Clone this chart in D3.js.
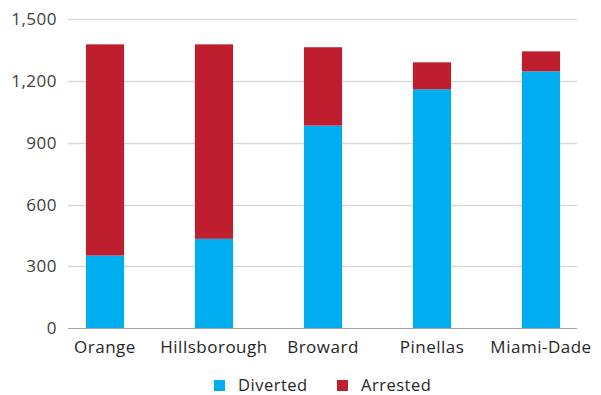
<!DOCTYPE html>
<html>
<head>
<meta charset="utf-8">
<script src="https://cdn.jsdelivr.net/npm/d3@7"></script>
<style>
  body { margin: 0; background: #fff; }
  svg { display: block; font-family: "Open Sans", "Noto Sans", sans-serif; }
  text { letter-spacing: 0.5px; }
</style>
</head>
<body>
<svg id="chart" width="601" height="395"></svg>
<script>
const counties = ['Orange', 'Hillsborough', 'Broward', 'Pinellas', 'Miami-Dade'];
const diverted = [353, 434, 983, 1159, 1246];
const arrested = [1024, 943, 380, 131, 97];
const yTicks = [0, 300, 600, 900, 1200, 1500];

const seriesNames = ['Diverted', 'Arrested'];
const colors = { Diverted: '#00aeef', Arrested: '#be1e2d' };

const rows = counties.map((c, i) => ({ county: c, Diverted: diverted[i], Arrested: arrested[i] }));
const stacked = d3.stack().keys(seriesNames)(rows);

const svg = d3.select('#chart');
const plotLeft = 68, plotRight = 577;

const y = d3.scaleLinear().domain([0, 1500]).range([328.3, 19]);
const x = d3.scaleBand().domain(counties).range([50.5, 595.5]).paddingInner(0.65).paddingOuter(0.325);

// gridlines
svg.append('g')
  .selectAll('line')
  .data(yTicks.filter(t => t > 0))
  .join('line')
  .attr('x1', plotLeft).attr('x2', plotRight)
  .attr('y1', d => Math.round(y(d)) + 0.5).attr('y2', d => Math.round(y(d)) + 0.5)
  .attr('stroke', '#d9d9d9').attr('stroke-width', 1.3);

// bars
svg.append('g')
  .selectAll('g')
  .data(stacked)
  .join('g')
  .attr('fill', d => colors[d.key])
  .selectAll('rect')
  .data(d => d)
  .join('rect')
  .attr('x', d => x(d.data.county))
  .attr('width', x.bandwidth())
  .attr('y', d => y(d[1]))
  .attr('height', d => y(d[0]) - y(d[1]));

// x axis line
svg.append('line')
  .attr('x1', plotLeft).attr('x2', plotRight)
  .attr('y1', 328.5).attr('y2', 328.5)
  .attr('stroke', '#a6a6a6').attr('stroke-width', 1);

// y tick labels
svg.append('g')
  .selectAll('text')
  .data(yTicks)
  .join('text')
  .attr('x', 57)
  .attr('y', d => y(d))
  .attr('dy', '0.35em')
  .attr('text-anchor', 'end')
  .attr('font-size', 17)
  .attr('fill', '#404040')
  .text(d3.format(','));

// category labels
svg.append('g')
  .selectAll('text')
  .data(counties)
  .join('text')
  .attr('x', d => x(d) + x.bandwidth() / 2)
  .attr('y', 353)
  .attr('text-anchor', 'middle')
  .attr('font-size', 17)
  .attr('fill', '#262626')
  .text(d => d);

// legend
const legend = svg.append('g')
  .selectAll('g')
  .data(seriesNames)
  .join('g')
  .attr('transform', (d, i) => `translate(${214 + i * 123},380)`);
legend.append('rect')
  .attr('width', 11).attr('height', 11)
  .attr('fill', d => colors[d]);
legend.append('text')
  .attr('x', 24).attr('y', 10.5)
  .attr('font-size', 16.5)
  .attr('fill', '#262626')
  .text(d => d);
</script>
</body>
</html>
